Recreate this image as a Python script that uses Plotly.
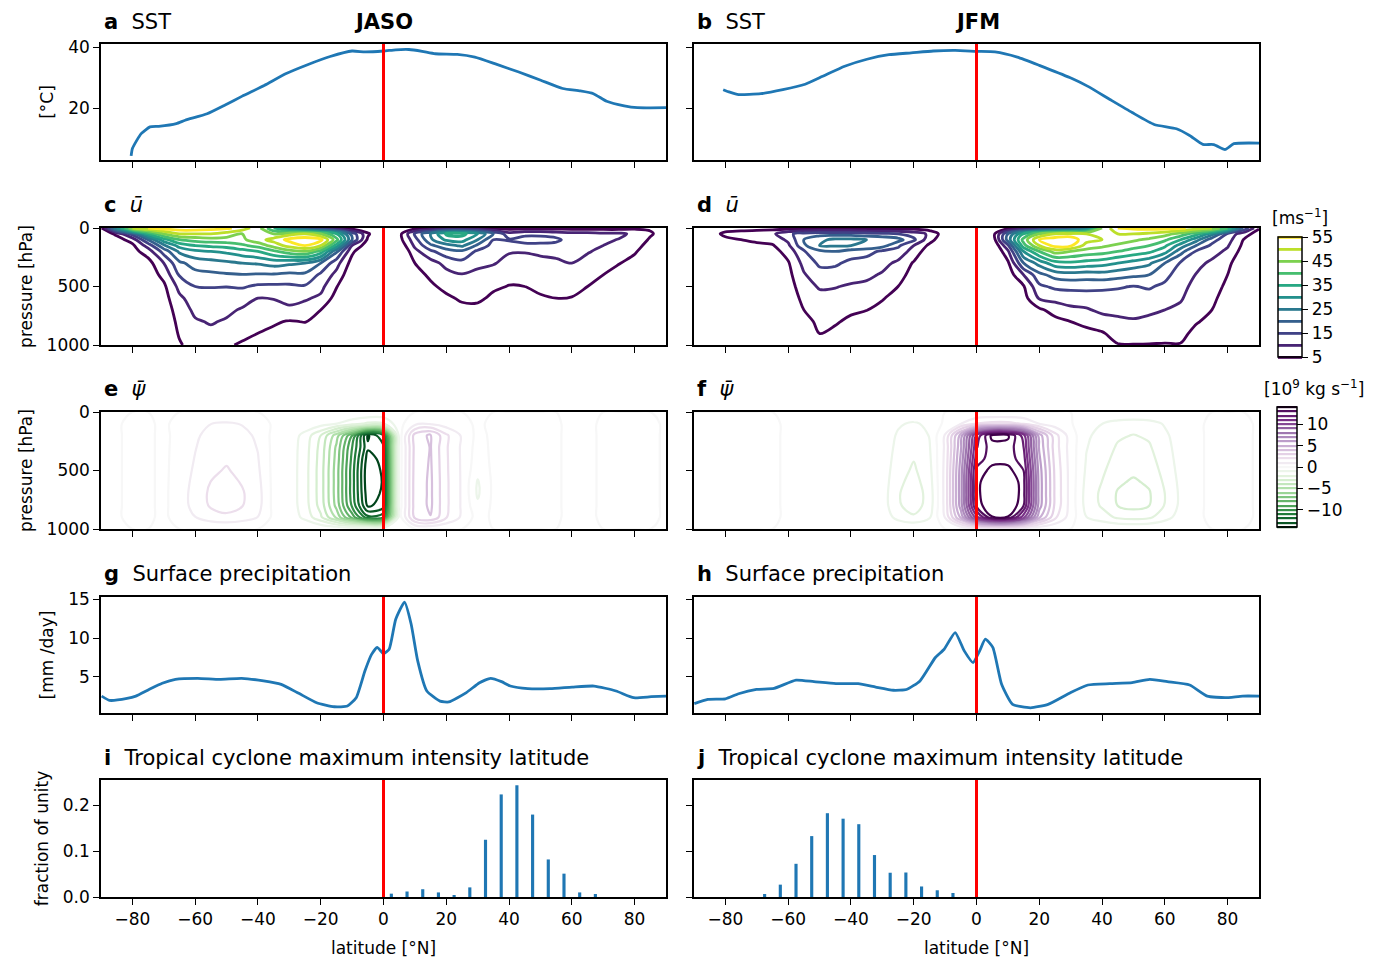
import plotly.graph_objects as go

FONT = "DejaVu Sans"
W, H = 1384, 961

# ---------------- data ----------------
lat_grid = [-90, -85, -80, -75, -70, -65, -60, -55, -50, -45, -40, -35, -30, -25, -20, -15, -10, -5,
            0, 5, 10, 15, 20, 25, 30, 35, 40, 45, 50, 55, 60, 65, 70, 75, 80, 85, 90]
lat_ticks = [-80, -60, -40, -20, 0, 20, 40, 60, 80]

# SST
sst_jaso_lat = [-80.4, -80, -78.6, -77.2, -74.4, -71.6, -66, -63.2, -56.2, -50.6, -45, -38, -31, -24, -17, -10,
                -5.9, 0, 3.9, 8.1, 12.3, 16.5, 23.5, 29.1, 36.1, 43.1, 50.1, 57.1, 62.7, 66.9, 71.1, 76.7, 80.9, 90]
sst_jaso = [4.3, 6.7, 9.4, 11.6, 13.8, 14.0, 14.9, 16.0, 18.1, 20.9, 23.9, 27.4, 31.3, 34.3, 36.9, 38.7,
            38.4, 38.7, 39.1, 39.2, 38.6, 37.8, 37.6, 36.7, 34.3, 31.8, 29.1, 26.4, 25.6, 24.7, 22.2, 20.7, 20.1, 20.1]
sst_jfm_lat = [-80.7, -78.6, -75.8, -68.7, -61.7, -54.6, -49, -42, -34.9, -27.9, -20.8, -13.8, -6.8, 0, 5.9, 13,
               20, 29.9, 35.5, 42.5, 49.6, 56.6, 63.7, 67.9, 72.1, 75.6, 79.2, 82, 90]
sst_jfm = [26.0, 25.2, 24.4, 24.7, 26.0, 27.8, 30.4, 33.7, 36.0, 37.5, 38.1, 38.7, 38.9, 38.6, 38.4, 36.7,
           34.0, 29.9, 27.1, 22.8, 18.5, 14.6, 13.2, 11.0, 8.1, 8.0, 6.4, 8.3, 8.5]

# zonal-mean zonal wind: one profile per latitude in lat_grid, at the pressure levels p_u
p_u = [0, 50, 100, 150, 200, 300, 400, 500, 600, 700, 800, 900, 1000]
u_jaso_profiles = [
    [4, 2, 1, 0, 0, -1, -1, -1, -1, -1, -1, -1, -1],
    [30, 6, 3, 2, 1, 0, 0, 0, 0, 0, 0, 0, 0],
    [50, 17, 7, 4, 3, 2, 1, 0, 0, 0, 0, 0, 0],
    [55, 35, 20, 12, 7.5, 3, 2, 1, 0, 0, 0, 0, 0],
    [57, 45, 33, 24, 17, 10, 6.5, 4, 3, 2, 1, 1, 1],
    [58, 50, 40, 32, 26, 19, 15.5, 11.5, 9, 7.5, 6.5, 5.5, 4.5],
    [58, 50, 42, 35, 29, 22, 18.5, 15, 12.5, 11, 9.5, 8, 7],
    [57, 50, 43, 36, 30, 23, 19, 15.2, 13, 11.5, 10.4, 9, 7.5],
    [56, 48, 43, 37, 31, 24, 19.5, 15.1, 12.8, 11, 9.5, 7, 5.5],
    [53, 45, 44, 39, 33, 25, 19.8, 15.5, 12, 9.5, 7.5, 6, 4.5],
    [47, 46, 48, 42, 35, 25.5, 19.5, 14.2, 10, 7.8, 6.2, 5, 3.5],
    [35, 45, 52, 47, 39, 27, 19.5, 14, 10.2, 8, 5.6, 4, 3],
    [22, 48, 56.5, 52, 43, 26, 18.8, 14.1, 11, 9.3, 4.6, 3, 2],
    [12, 50, 58, 55, 45, 25, 19, 14.5, 10.6, 8, 5.2, 3, 2],
    [7, 45, 56.5, 50, 38, 20, 14, 11.5, 9, 5, 3, 2, 1],
    [4, 35, 42, 33, 21, 12, 8.5, 5.3, 3, 1, 0, 0, 0],
    [2, 18, 20, 10, 6, 3, 1, 0, 0, 0, 0, 0, 0],
    [0, 6, 4, 2, 0, -1, -1, -1, -1, -1, -1, -1, -1],
    [-3, -2, -3, -4, -5, -5, -4, -3, -3, -2, -2, -2, -2],
    [0, 3, 3, 1, -1, -2, -2, -2, -2, -2, -2, -2, -2],
    [3, 16, 13, 11, 8.5, 5, 3, 1, 0, 0, 0, 0, 0],
    [4, 25, 24, 19, 14, 8, 6, 4, 2, 0, 0, 0, 0],
    [4, 36, 31, 23, 18, 11.5, 8.5, 6.5, 4, 2, 0, 0, 0],
    [4, 37, 32, 26, 19, 13.5, 9.7, 7.5, 5.8, 3.5, 1, 0, 0],
    [4, 30, 25, 19, 14, 11, 9, 7.5, 6, 3.5, 1, 0, 0],
    [3, 20, 15, 13, 12, 10.5, 7, 5.8, 4, 2, 1, 0, 0],
    [3, 12, 15.5, 13, 10.5, 8, 6.5, 4.8, 3, 2, 1, 0, 0],
    [3, 14, 16.5, 14, 10.3, 8, 6, 5, 3.5, 2, 1, 0, 0],
    [3, 14, 16.5, 14, 11, 8.5, 7, 6, 4.5, 3, 1, 0, 0],
    [3, 13, 16, 13.5, 11.5, 9, 7.5, 6.5, 5, 3, 1, 0, 0],
    [3, 12, 13, 12, 11, 10, 7.5, 6.5, 4.8, 3, 1, 0, 0],
    [3, 12, 11.5, 11, 10.5, 8, 6.5, 5, 3.5, 2, 1, 0, 0],
    [3, 11, 10.8, 10, 8.5, 6.5, 5, 3.5, 2, 1, 0, 0, 0],
    [3, 11, 9.8, 8.5, 7.5, 5.2, 3.5, 2, 1, 0, 0, 0, 0],
    [4, 9, 7.5, 6.5, 5.5, 3.5, 2, 1, 0, 0, 0, 0, 0],
    [4.5, 5.5, 4.5, 3.5, 2.5, 1, 0, 0, 0, 0, 0, 0, 0],
    [2, 3, 2, 1, 0, 0, 0, 0, 0, 0, 0, 0, 0],
]
u_jfm_profiles = [
    [2, 1, 0, 0, 0, 0, 0, 0, 0, 0, 0, 0, 0],
    [3, 3, 2, 1, 0, 0, 0, 0, 0, 0, 0, 0, 0],
    [3, 6, 4, 2, 1, 0, 0, 0, 0, 0, 0, 0, 0],
    [3, 7, 5, 3, 2, 1, 0, 0, 0, 0, 0, 0, 0],
    [3, 8, 6, 4, 2, 1, 0, 0, 0, 0, 0, 0, 0],
    [3, 9, 7, 4.5, 3, 2, 1, 0, 0, 0, 0, 0, 0],
    [3, 14, 11, 9, 7, 4.5, 3.5, 2.5, 2, 1, 0, 0, 0],
    [3, 17, 20, 19, 14.5, 11.5, 9.5, 8, 6.3, 5, 3.5, 2, 1],
    [3, 18, 24, 25, 19, 16, 13, 10.5, 8.5, 7, 6, 5.1, 4],
    [3, 18, 26, 25.5, 20, 16, 12.5, 10.2, 8.8, 7.3, 5.5, 4, 3],
    [3, 18, 26, 25, 18, 13.5, 11.5, 9.5, 7.6, 5.8, 4, 3, 2],
    [3, 17, 25, 24, 17, 12.5, 11, 9, 6.8, 5.1, 3.5, 2, 1],
    [3, 16, 24, 22, 14, 11.5, 9.5, 7, 5.4, 3.5, 2, 1, 0],
    [3, 15, 22, 16, 13, 9, 7, 5, 3, 2, 1, 0, 0],
    [3, 13, 16, 10, 8, 4.5, 3, 2, 1, 0, 0, 0, 0],
    [2, 9, 7, 4, 2, 1, 0, 0, 0, 0, 0, 0, 0],
    [0, 2, 1, 0, -1, -1, -1, -1, -1, -1, -1, -1, -1],
    [-2, -2, -3, -3, -3, -3, -3, -2, -2, -2, -2, -2, -2],
    [-3, -3, -4, -4, -5, -5, -4, -3, -3, -2, -2, -2, -2],
    [-2, 2, 1, -1, -2, -2, -2, -2, -2, -2, -2, -2, -2],
    [3, 20, 22, 14, 9, 4, 2, 0, 0, 0, 0, 0, 0],
    [4, 35, 42, 38, 30, 20, 10, 4.5, 3, 1, 0, 0, 0],
    [5, 45, 55, 50, 40, 27, 18.5, 14, 10.5, 4, 2, 1, 0],
    [7, 50, 58, 57, 47, 33, 22, 16, 11.5, 7, 3.5, 2, 1],
    [10, 52, 58, 56, 45, 34, 23, 16.5, 12, 9, 5, 3, 2],
    [20, 50, 52, 48, 43, 33, 22.5, 16.5, 12.5, 9.5, 6, 4, 3],
    [45, 50, 50, 46, 42, 32, 23, 16, 13, 11, 8, 4.5, 3],
    [55, 50, 48, 44, 40, 30, 22, 15.5, 13, 11.2, 9, 7, 4.7],
    [56, 50, 46, 42, 38, 28, 21, 14.8, 13, 11.5, 9.5, 7.5, 4.8],
    [57, 49, 44, 40, 36, 26, 20, 15.5, 13.2, 10.8, 9, 7, 4.8],
    [57, 47, 41, 36, 32, 20, 16.5, 14, 12, 10, 8, 6.5, 4.7],
    [56, 43, 35, 28, 22, 14.5, 12.5, 11.5, 10.5, 9, 7.5, 6, 4.8],
    [53, 37, 27, 20, 14.5, 11.5, 9.8, 8.5, 7.5, 6.5, 5.3, 4, 3],
    [50, 27, 17, 14, 12, 9, 8, 7, 6, 5, 4, 3, 2],
    [40, 14, 12, 10.5, 9, 6, 5, 4, 3, 2, 1, 0, 0],
    [20, 7, 5, 4, 3, 2, 1, 0, 0, 0, 0, 0, 0],
    [5.5, 3, 2, 1, 0, 0, 0, 0, 0, 0, 0, 0, 0],
]

# mean meridional streamfunction [1e9 kg/s]: one profile per latitude, at pressure levels p_psi
p_psi = [0, 100, 200, 300, 400, 500, 600, 700, 800, 900, 1000]
psi_jaso_profiles = [
    [0, -0.12, -0.2, -0.2, -0.2, -0.2, -0.2, -0.2, -0.2, -0.16, 0],
    [0, -0.06, -0.1, -0.1, -0.1, -0.1, -0.1, -0.1, -0.1, -0.08, 0],
    [0, 0.12, 0.2, 0.2, 0.2, 0.2, 0.2, 0.2, 0.2, 0.16, 0],
    [0, 0.09, 0.15, 0.15, 0.15, 0.15, 0.15, 0.15, 0.15, 0.12, 0],
    [0, -0.12, -0.2, -0.2, -0.2, -0.2, -0.2, -0.2, -0.2, -0.16, 0],
    [0, 0.22, 0.3, 0.34, 0.38, 0.42, 0.46, 0.5, 0.49, 0.35, 0],
    [0, 0.63, 0.84, 0.95, 1.05, 1.16, 1.29, 1.4, 1.36, 0.98, 0],
    [0, 0.99, 1.32, 1.5, 1.65, 1.83, 2.02, 2.2, 2.13, 1.54, 0],
    [0, 1.13, 1.5, 1.7, 1.88, 2.08, 2.3, 2.5, 2.43, 1.75, 0],
    [0, 0.95, 1.26, 1.43, 1.58, 1.74, 1.93, 2.1, 2.04, 1.47, 0],
    [0, 0.63, 0.84, 0.95, 1.05, 1.16, 1.29, 1.4, 1.36, 0.98, 0],
    [0, -0.18, -0.3, -0.3, -0.3, -0.3, -0.3, -0.3, -0.3, -0.24, 0],
    [0, -0.1, -0.35, -0.4, -0.4, -0.4, -0.4, -0.4, -0.4, -0.32, 0],
    [0, -0.24, -1.36, -1.52, -1.57, -1.6, -1.6, -1.6, -1.55, -1.28, 0],
    [0, -0.53, -2.98, -3.33, -3.43, -3.5, -3.5, -3.5, -3.4, -2.8, 0],
    [0, -0.98, -5.53, -6.18, -6.37, -6.5, -6.5, -6.5, -6.31, -5.2, 0],
    [0, -1.58, -8.93, -9.98, -10.29, -10.5, -10.5, -10.5, -10.19, -8.4, 0],
    [0, -2.2, -14.2, -13.8, -14.5, -14.8, -14.8, -14.6, -14.2, -11.7, 0],
    [0, -2.1, -12.0, -13.2, -13.6, -13.8, -13.9, -13.8, -13.5, -11.2, 0],
    [0, -0.3, -0.6, -0.6, -0.6, -0.6, -0.6, -0.6, -0.6, -0.5, 0],
    [0, 0.72, 3.42, 3.31, 3.35, 3.38, 3.42, 3.42, 3.42, 3.24, 0],
    [0, 0.88, 4.18, 4.05, 4.09, 4.14, 4.18, 4.18, 4.18, 3.96, 0],
    [0, 0.46, 2.19, 2.12, 2.14, 2.16, 2.19, 2.19, 2.19, 2.07, 0],
    [0, 0.18, 0.86, 0.83, 0.84, 0.85, 0.86, 0.86, 0.86, 0.81, 0],
    [0, -0.1, -0.3, -0.4, -0.5, -0.7, -1.1, -1.15, -0.8, -0.4, 0],
    [0, 0.12, 0.2, 0.2, 0.2, 0.2, 0.2, 0.2, 0.2, 0.16, 0],
    [0, 0.12, 0.2, 0.2, 0.2, 0.2, 0.2, 0.2, 0.2, 0.16, 0],
    [0, 0.09, 0.15, 0.15, 0.15, 0.15, 0.15, 0.15, 0.15, 0.12, 0],
    [0, 0.09, 0.15, 0.15, 0.15, 0.15, 0.15, 0.15, 0.15, 0.12, 0],
    [0, 0.06, 0.1, 0.1, 0.1, 0.1, 0.1, 0.1, 0.1, 0.08, 0],
    [0, -0.12, -0.2, -0.2, -0.2, -0.2, -0.2, -0.2, -0.2, -0.16, 0],
    [0, -0.12, -0.2, -0.2, -0.2, -0.2, -0.2, -0.2, -0.2, -0.16, 0],
    [0, 0.09, 0.15, 0.15, 0.15, 0.15, 0.15, 0.15, 0.15, 0.12, 0],
    [0, 0.09, 0.15, 0.15, 0.15, 0.15, 0.15, 0.15, 0.15, 0.12, 0],
    [0, 0.09, 0.15, 0.15, 0.15, 0.15, 0.15, 0.15, 0.15, 0.12, 0],
    [0, 0.09, 0.15, 0.15, 0.15, 0.15, 0.15, 0.15, 0.15, 0.12, 0],
    [0, -0.06, -0.1, -0.1, -0.1, -0.1, -0.1, -0.1, -0.1, -0.08, 0],
]
psi_jfm_profiles = [
    [0, 0.09, 0.15, 0.15, 0.15, 0.15, 0.15, 0.15, 0.15, 0.12, 0],
    [0, 0.09, 0.15, 0.15, 0.15, 0.15, 0.15, 0.15, 0.15, 0.12, 0],
    [0, 0.09, 0.15, 0.15, 0.15, 0.15, 0.15, 0.15, 0.15, 0.12, 0],
    [0, 0.09, 0.15, 0.15, 0.15, 0.15, 0.15, 0.15, 0.15, 0.12, 0],
    [0, 0.09, 0.15, 0.15, 0.15, 0.15, 0.15, 0.15, 0.15, 0.12, 0],
    [0, 0.09, 0.15, 0.15, 0.15, 0.15, 0.15, 0.15, 0.15, 0.12, 0],
    [0, -0.09, -0.15, -0.15, -0.15, -0.15, -0.15, -0.15, -0.15, -0.12, 0],
    [0, -0.12, -0.2, -0.2, -0.2, -0.2, -0.2, -0.2, -0.2, -0.16, 0],
    [0, -0.12, -0.2, -0.2, -0.2, -0.2, -0.2, -0.2, -0.2, -0.16, 0],
    [0, -0.12, -0.2, -0.2, -0.2, -0.2, -0.2, -0.2, -0.2, -0.16, 0],
    [0, -0.12, -0.2, -0.2, -0.2, -0.2, -0.2, -0.2, -0.2, -0.16, 0],
    [0, -0.18, -0.3, -0.3, -0.3, -0.3, -0.3, -0.3, -0.3, -0.24, 0],
    [0, -0.22, -0.3, -0.34, -0.38, -0.42, -0.46, -0.5, -0.49, -0.35, 0],
    [0, -0.86, -1.14, -1.29, -1.43, -1.58, -1.75, -1.9, -1.84, -1.33, 0],
    [0, -1.17, -1.56, -1.77, -1.95, -2.16, -2.39, -2.6, -2.52, -1.82, 0],
    [0, -0.72, -0.96, -1.09, -1.2, -1.33, -1.47, -1.6, -1.55, -1.12, 0],
    [0, 0.2, 1.1, 1.17, 1.24, 1.3, 1.33, 1.33, 1.3, 1.04, 0],
    [0, 0.98, 5.5, 5.85, 6.2, 6.5, 6.6, 6.6, 6.5, 5.2, 0],
    [0, 2.0, 11.2, 11.9, 12.5, 13.2, 13.5, 13.5, 13.2, 10.6, 0],
    [0, 2.3, 14.3, 13.6, 13.5, 14.4, 15.4, 15.6, 15.3, 13.9, 0],
    [0, 2.3, 14.2, 13.6, 13.5, 14.4, 15.4, 15.6, 15.3, 13.9, 0],
    [0, 1.9, 11.5, 12.0, 12.5, 13.0, 13.3, 13.3, 13.0, 10.4, 0],
    [0, 1.0, 5.5, 5.85, 6.2, 6.5, 6.6, 6.6, 6.5, 5.2, 0],
    [0, 0.42, 2.4, 2.5, 2.65, 2.8, 2.85, 2.85, 2.8, 2.24, 0],
    [0, 0.09, 0.51, 0.54, 0.57, 0.6, 0.61, 0.61, 0.6, 0.48, 0],
    [0, -0.63, -0.84, -0.95, -1.05, -1.16, -1.29, -1.4, -1.36, -0.98, 0],
    [0, -0.99, -1.32, -1.5, -1.65, -1.83, -2.02, -2.2, -2.13, -1.54, 0],
    [0, -1.4, -1.86, -2.11, -2.33, -2.57, -2.85, -3.1, -3.01, -2.17, 0],
    [0, -1.53, -2.04, -2.31, -2.55, -2.82, -3.13, -3.4, -3.3, -2.38, 0],
    [0, -1.4, -1.86, -2.11, -2.33, -2.57, -2.85, -3.1, -3.01, -2.17, 0],
    [0, -0.9, -1.2, -1.36, -1.5, -1.66, -1.84, -2.0, -1.94, -1.4, 0],
    [0, -0.36, -0.48, -0.54, -0.6, -0.66, -0.74, -0.8, -0.78, -0.56, 0],
    [0, -0.12, -0.2, -0.2, -0.2, -0.2, -0.2, -0.2, -0.2, -0.16, 0],
    [0, 0.12, 0.2, 0.2, 0.2, 0.2, 0.2, 0.2, 0.2, 0.16, 0],
    [0, 0.09, 0.15, 0.15, 0.15, 0.15, 0.15, 0.15, 0.15, 0.12, 0],
    [0, 0.09, 0.15, 0.15, 0.15, 0.15, 0.15, 0.15, 0.15, 0.12, 0],
    [0, -0.06, -0.1, -0.1, -0.1, -0.1, -0.1, -0.1, -0.1, -0.08, 0],
]

# surface precipitation [mm/day]
pr_jaso_lat = [-89.8, -87.3, -81.7, -78.9, -74.7, -70.5, -66.3, -59.2, -52.2, -45.2, -38.2, -32.6, -27, -21.3,
               -15.7, -11.5, -8.7, -5.9, -3.8, -2, 0, 1.8, 3.9, 6.7, 8.8, 10.9, 13.8, 18, 20.8, 26.4, 30.6,
               34.1, 37.6, 40.4, 46, 53.1, 60.1, 67.1, 74.1, 79.7, 85.3, 90]
pr_jaso = [2.55, 2.0, 2.25, 2.55, 3.4, 4.2, 4.7, 4.83, 4.7, 4.83, 4.5, 4.05, 2.9, 1.7, 1.18, 1.27, 2.34, 5.8,
           7.9, 8.8, 8.0, 8.56, 12.4, 14.6, 11.8, 7.06, 3.2, 1.9, 1.8, 3.0, 4.27, 4.83, 4.4, 3.84, 3.5, 3.5,
           3.7, 3.84, 3.2, 2.34, 2.47, 2.55]
pr_jfm_lat = [-89.9, -85.6, -80, -75.8, -70.1, -64.5, -57.5, -51.8, -44.8, -37.7, -32.1, -26.5, -22.3, -18,
              -13.1, -10.3, -6.8, -3.9, -1.1, 1, 2.8, 5.2, 8, 11.5, 17.2, 22.8, 29.9, 35.5, 42.5, 49.6, 55.2,
              60.8, 67.9, 73.5, 79.2, 84.8, 90]
pr_jfm = [1.57, 2.12, 2.2, 2.85, 3.4, 3.54, 4.6, 4.4, 4.14, 4.14, 3.7, 3.3, 3.4, 4.5, 7.5, 8.56, 10.7, 8.35,
          6.85, 8.35, 9.85, 8.8, 4.06, 1.48, 1.05, 1.48, 2.98, 3.97, 4.14, 4.27, 4.7, 4.4, 3.97, 2.55, 2.34,
          2.55, 2.55]

# tropical cyclone maximum-intensity latitude histograms
tc_lat_jaso = [2.5, 7.5, 12.5, 17.5, 22.5, 27.5, 32.5, 37.5, 42.5, 47.5, 52.5, 57.5, 62.5, 67.5]
tc_frac_jaso = [0.0073, 0.012, 0.017, 0.010, 0.004, 0.021, 0.125, 0.224, 0.244, 0.180, 0.082, 0.051, 0.010, 0.0066]
tc_lat_jfm = [-67.5, -62.5, -57.5, -52.5, -47.5, -42.5, -37.5, -32.5, -27.5, -22.5, -17.5, -12.5, -7.5]
tc_frac_jfm = [0.0066, 0.027, 0.0725, 0.133, 0.183, 0.171, 0.159, 0.0916, 0.053, 0.0535, 0.023, 0.0147, 0.0088]


def to_grid(profiles):
    # profiles are listed per latitude; contour wants rows per pressure level
    return [list(row) for row in zip(*profiles)]


# ---------------- layout geometry (pixels) ----------------
XDOM = [(101, 666), (694, 1259)]
YDOM = [(44, 160), (228, 345), (412, 529), (597, 713), (780, 897)]
BLUE = "#1f77b4"


def xd(c):
    return [XDOM[c][0] / W, XDOM[c][1] / W]


def yd(r):
    return [1 - YDOM[r][1] / H, 1 - YDOM[r][0] / H]


def ax_id(r, c):
    return r * 2 + c + 1


def ref(r, c):
    i = ax_id(r, c)
    return ("x" if i == 1 else f"x{i}"), ("y" if i == 1 else f"y{i}")


fig = go.Figure()

# row 1: SST
for c, (lx, ly) in enumerate([(sst_jaso_lat, sst_jaso), (sst_jfm_lat, sst_jfm)]):
    xa, ya = ref(0, c)
    fig.add_trace(go.Scatter(x=lx, y=ly, mode="lines", line=dict(color=BLUE, width=2.8, shape="spline", smoothing=0.5),
                             xaxis=xa, yaxis=ya, showlegend=False, hoverinfo="skip"))

# row 2: u
for c, prof in enumerate([u_jaso_profiles, u_jfm_profiles]):
    xa, ya = ref(1, c)
    tr = go.Contour(x=lat_grid, y=p_u, z=to_grid(prof), xaxis=xa, yaxis=ya,
                    colorscale="Viridis", zmin=5, zmax=55, autocontour=False,
                    contours=dict(start=5, end=55, size=5, coloring="lines"),
                    line=dict(width=2.8, smoothing=1.0), hoverinfo="skip",
                    showscale=(c == 1))
    if c == 1:
        tr.colorbar = dict(x=1278 / W, xanchor="left", y=1 - 237 / H, yanchor="top",
                           len=120, lenmode="pixels", thickness=24, thicknessmode="pixels",
                           xpad=0, ypad=0, outlinewidth=1.5, outlinecolor="black",
                           tickvals=[5, 15, 25, 35, 45, 55], ticks="outside", ticklen=6,
                           tickcolor="black", tickfont=dict(family=FONT, size=17, color="black"))
    fig.add_trace(tr)

# row 3: psi
for c, prof in enumerate([psi_jaso_profiles, psi_jfm_profiles]):
    xa, ya = ref(2, c)
    tr = go.Contour(x=lat_grid, y=p_psi, z=to_grid(prof), xaxis=xa, yaxis=ya,
                    colorscale="PRGn", reversescale=True, zmin=-14, zmax=14, autocontour=False,
                    contours=dict(start=-14, end=14, size=1, coloring="lines"),
                    line=dict(width=2.2, smoothing=1.0), hoverinfo="skip",
                    showscale=(c == 1))
    if c == 1:
        tr.colorbar = dict(x=1277 / W, xanchor="left", y=1 - 407 / H, yanchor="top",
                           len=120, lenmode="pixels", thickness=20, thicknessmode="pixels",
                           xpad=0, ypad=0, outlinewidth=1.5, outlinecolor="black",
                           tickvals=[-10, -5, 0, 5, 10], ticks="outside", ticklen=6,
                           tickcolor="black", tickfont=dict(family=FONT, size=17, color="black"))
    fig.add_trace(tr)

# row 4: precipitation
for c, (lx, ly) in enumerate([(pr_jaso_lat, pr_jaso), (pr_jfm_lat, pr_jfm)]):
    xa, ya = ref(3, c)
    fig.add_trace(go.Scatter(x=lx, y=ly, mode="lines", line=dict(color=BLUE, width=2.8, shape="spline", smoothing=0.5),
                             xaxis=xa, yaxis=ya, showlegend=False, hoverinfo="skip"))

# row 5: TC histograms
for c, (lx, ly) in enumerate([(tc_lat_jaso, tc_frac_jaso), (tc_lat_jfm, tc_frac_jfm)]):
    xa, ya = ref(4, c)
    fig.add_trace(go.Bar(x=lx, y=ly, width=1.0, marker=dict(color=BLUE, line=dict(width=0)),
                         xaxis=xa, yaxis=ya, showlegend=False, hoverinfo="skip"))

# axes
tickfont = dict(family=FONT, size=17, color="black")
common = dict(showline=True, linecolor="black", linewidth=1.5, mirror=True, ticks="outside",
              ticklen=6, tickwidth=1.3, tickcolor="black", showgrid=False, zeroline=False,
              tickfont=tickfont, automargin=False)
yspec = [
    dict(range=[2.95, 41.0], tickvals=[20, 40], title="[°C]"),
    dict(range=[1000, 0], tickvals=[0, 500, 1000], title="pressure [hPa]"),
    dict(range=[1000, 0], tickvals=[0, 500, 1000], title="pressure [hPa]"),
    dict(range=[0.38, 15.26], tickvals=[5, 10, 15], title="[mm /day]"),
    dict(range=[0, 0.2555], tickvals=[0, 0.1, 0.2], ticktext=["0.0", "0.1", "0.2"], title="fraction of unity"),
]
lay = {}
shapes = []
for r in range(5):
    for c in range(2):
        i = ax_id(r, c)
        xk = "xaxis" if i == 1 else f"xaxis{i}"
        yk = "yaxis" if i == 1 else f"yaxis{i}"
        xa, ya = ref(r, c)
        xax = dict(common, domain=xd(c), anchor=ya, range=[-90, 90], tickvals=lat_ticks,
                   showticklabels=(r == 4))
        if r == 4:
            xax["title"] = dict(text="latitude [°N]", font=dict(family=FONT, size=17, color="black"), standoff=14)
        s = yspec[r]
        yax = dict(common, domain=yd(r), anchor=xa, range=s["range"], tickvals=s["tickvals"],
                   showticklabels=(c == 0))
        if "ticktext" in s:
            yax["ticktext"] = s["ticktext"]
        if c == 0:
            yax["title"] = dict(text=s["title"], font=dict(family=FONT, size=17, color="black"), standoff=10)
        lay[xk] = xax
        lay[yk] = yax
        shapes.append(dict(type="line", xref=xa, yref=f"{ya} domain", x0=0, x1=0, y0=0, y1=1,
                           line=dict(color="red", width=3), layer="above"))

# panel titles
titles = [
    ("a", "SST"), ("b", "SST"),
    ("c", "<i>ū</i>"), ("d", "<i>ū</i>"),
    ("e", "<i>ψ̄</i>"), ("f", "<i>ψ̄</i>"),
    ("g", "Surface precipitation"), ("h", "Surface precipitation"),
    ("i", "Tropical cyclone maximum intensity latitude"), ("j", "Tropical cyclone maximum intensity latitude"),
]
title_y = [22, 205, 389, 574, 758]
ann = []
for k, (lbl, txt) in enumerate(titles):
    r, c = divmod(k, 2)
    ann.append(dict(text=f"<b>{lbl}</b>\u00a0\u00a0{txt}", x=(XDOM[c][0] + 1) / W, y=1 - title_y[r] / H,
                    xref="paper", yref="paper", xanchor="left", yanchor="middle", showarrow=False,
                    font=dict(family=FONT, size=21, color="black")))
ann.append(dict(text="<b>JASO</b>", x=384 / W, y=1 - 22 / H, xref="paper", yref="paper",
                xanchor="center", yanchor="middle", showarrow=False, font=dict(family=FONT, size=21, color="black")))
ann.append(dict(text="<b>JFM</b>", x=977 / W, y=1 - 22 / H, xref="paper", yref="paper",
                xanchor="center", yanchor="middle", showarrow=False, font=dict(family=FONT, size=21, color="black")))
ann.append(dict(text="[ms<sup>−1</sup>]", x=1300 / W, y=1 - 217 / H, xref="paper", yref="paper",
                xanchor="center", yanchor="middle", showarrow=False, font=dict(family=FONT, size=17, color="black")))
ann.append(dict(text="[10<sup>9</sup> kg s<sup>−1</sup>]", x=1314 / W, y=1 - 388 / H, xref="paper", yref="paper",
                xanchor="center", yanchor="middle", showarrow=False, font=dict(family=FONT, size=17, color="black")))

fig.update_layout(width=W, height=H, margin=dict(l=0, r=0, t=0, b=0, autoexpand=False), paper_bgcolor="white",
                  plot_bgcolor="white", font=dict(family=FONT, size=17, color="black"),
                  showlegend=False, shapes=shapes, annotations=ann, **lay)

fig.write_html("out.html")
